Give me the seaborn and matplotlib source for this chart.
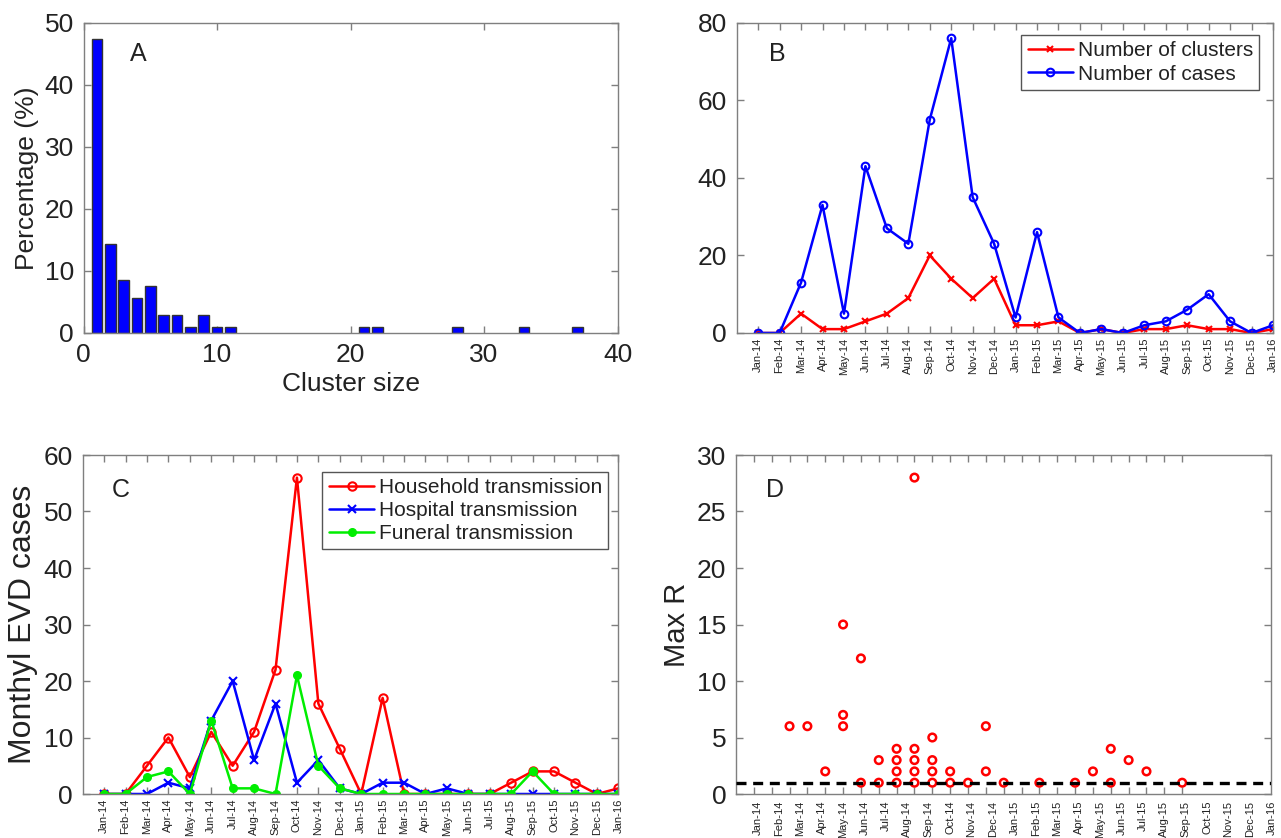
import matplotlib
matplotlib.use('Agg')
import matplotlib.pyplot as plt
import numpy as np
import seaborn as sns

sns.set_theme(style='white')
plt.rcParams['font.family'] = ['Liberation Sans', 'DejaVu Sans']
plt.rcParams['text.color'] = '#222222'
plt.rcParams['axes.labelcolor'] = '#222222'

# Data
months = ['Jan-14', 'Feb-14', 'Mar-14', 'Apr-14', 'May-14', 'Jun-14', 'Jul-14',
          'Aug-14', 'Sep-14', 'Oct-14', 'Nov-14', 'Dec-14', 'Jan-15', 'Feb-15',
          'Mar-15', 'Apr-15', 'May-15', 'Jun-15', 'Jul-15', 'Aug-15', 'Sep-15',
          'Oct-15', 'Nov-15', 'Dec-15', 'Jan-16']
month_idx = list(range(len(months)))

# A: cluster size distribution
cluster_size = [1, 2, 3, 4, 5, 6, 7, 8, 9, 10, 11, 21, 22, 28, 33, 37]
cluster_pct = [47.3, 14.3, 8.6, 5.7, 7.6, 2.9, 2.9, 1.0, 2.9, 1.0, 1.0,
               1.0, 1.0, 1.0, 1.0, 1.0]

# B: clusters and cases per month
n_clusters = [0, 0, 5, 1, 1, 3, 5, 9, 20, 14, 9, 14, 2, 2, 3, 0, 1, 0, 1, 1, 2, 1, 1, 0, 1]
n_cases = [0, 0, 13, 33, 5, 43, 27, 23, 55, 76, 35, 23, 4, 26, 4, 0, 1, 0, 2, 3, 6, 10, 3, 0, 2]

# C: monthly cases by transmission route
household = [0, 0, 5, 10, 3, 11, 5, 11, 22, 56, 16, 8, 0, 17, 0, 0, 0, 0, 0, 2, 4, 4, 2, 0, 1]
hospital = [0, 0, 0, 2, 1, 13, 20, 6, 16, 2, 6, 1, 0, 2, 2, 0, 1, 0, 0, 0, 0, 0, 0, 0, 0]
funeral = [0, 0, 3, 4, 0, 13, 1, 1, 0, 21, 5, 1, 0, 0, 0, 0, 0, 0, 0, 0, 4, 0, 0, 0, 0]

# D: max R per cluster (x = month tick index)
maxr_month = [2, 3, 4, 5, 5, 5, 6, 6, 7, 7, 8, 8, 8, 8, 9, 9, 9, 9, 9,
              10, 10, 10, 10, 11, 11, 12, 13, 13, 14, 16, 18, 19, 20, 20, 21, 22, 24]
maxr_value = [6, 6, 2, 15, 7, 6, 12, 1, 3, 1, 4, 3, 2, 1, 28, 4, 3, 2, 1,
              5, 3, 2, 1, 2, 1, 1, 6, 2, 1, 1, 1, 2, 4, 1, 3, 2, 1]

W, H = 1281, 838
fig = plt.figure(figsize=(W / 100, H / 100), dpi=100)


def rect(l, t, r, b):
    return [l / W, 1 - b / H, (r - l) / W, (b - t) / H]


axA = fig.add_axes(rect(83.6, 22.7, 617.5, 333))
axB = fig.add_axes(rect(736.7, 22.7, 1273, 333))
axC = fig.add_axes(rect(82.7, 455, 618.3, 794))
axD = fig.add_axes(rect(736, 455, 1271.4, 794))

spine_col = '#7f7f7f'
tick_fs = 19
label_fs = 19
legend_fs = 15
letter_fs = 18


def style_axes(ax):
    for s in ax.spines.values():
        s.set_color(spine_col)
        s.set_linewidth(1.0)
        s.set_visible(True)
    ax.tick_params(which='major', direction='in', top=True, right=True,
                   bottom=True, left=True, length=5, width=1,
                   color=spine_col, labelsize=tick_fs, pad=7,
                   labelcolor='#222222')


def month_axis(ax):
    ax.set_xticks(month_idx)
    ax.set_xticklabels(months, rotation=90, fontsize=8)
    ax.tick_params(axis='x', pad=3.5)
    ax.set_xlim(-1, 24)


def add_legend(ax, anchor):
    ax.legend(loc='upper right', bbox_to_anchor=anchor, borderaxespad=0,
              fontsize=legend_fs, frameon=True, fancybox=False,
              edgecolor='#555555', framealpha=1, handlelength=2.2,
              handletextpad=0.2, labelspacing=0.2, borderpad=0.3)


# Panel A
sns.barplot(x=cluster_size, y=cluster_pct, native_scale=True, width=0.8,
            color='blue', saturation=1, edgecolor='#333333', linewidth=1,
            errorbar=None, ax=axA)
style_axes(axA)
axA.set_xlim(0, 40)
axA.set_ylim(0, 50)
axA.set_xticks([0, 10, 20, 30, 40])
axA.set_xticklabels(['0', '10', '20', '30', '40'])
axA.set_yticks([0, 10, 20, 30, 40, 50])
axA.set_xlabel('Cluster size', fontsize=label_fs, labelpad=4)
axA.set_ylabel('Percentage (%)', fontsize=label_fs, labelpad=4)
axA.text(0.087, 0.90, 'A', transform=axA.transAxes, fontsize=letter_fs, va='center')

# Panel B
sns.lineplot(x=month_idx, y=n_clusters, color='red', marker='x', ms=5,
             mec='red', mew=1.5, lw=1.8, label='Number of clusters', ax=axB)
sns.lineplot(x=month_idx, y=n_cases, color='blue', marker='o', ms=5.5,
             mec='blue', mfc='none', mew=1.5, lw=1.8, label='Number of cases', ax=axB)
style_axes(axB)
month_axis(axB)
axB.set_ylim(0, 80)
axB.set_yticks([0, 20, 40, 60, 80])
axB.set_xlabel('')
axB.set_ylabel('')
axB.text(0.060, 0.90, 'B', transform=axB.transAxes, fontsize=letter_fs, va='center')
add_legend(axB, (0.974, 0.960))

# Panel C
sns.lineplot(x=month_idx, y=household, color='red', marker='o', ms=6,
             mec='red', mfc='none', mew=1.5, lw=1.8, label='Household transmission', ax=axC)
sns.lineplot(x=month_idx, y=hospital, color='blue', marker='x', ms=6,
             mec='blue', mew=1.5, lw=1.8, label='Hospital transmission', ax=axC)
sns.lineplot(x=month_idx, y=funeral, color='#00ee00', marker='o', ms=5.5,
             mec='#00ee00', mfc='#00ee00', mew=1, lw=1.8, label='Funeral transmission', ax=axC)
style_axes(axC)
month_axis(axC)
axC.set_ylim(0, 60)
axC.set_yticks([0, 10, 20, 30, 40, 50, 60])
axC.set_xlabel('')
axC.set_ylabel('Monthyl EVD cases', fontsize=23, labelpad=4)
axC.text(0.055, 0.897, 'C', transform=axC.transAxes, fontsize=letter_fs, va='center')
add_legend(axC, (0.981, 0.951))

# Panel D
sns.scatterplot(x=maxr_month, y=maxr_value, marker='o', s=30, ax=axD, zorder=2)
pts = axD.collections[-1]
pts.set_facecolor('none')
pts.set_edgecolor('red')
pts.set_linewidth(1.8)
axD.axhline(1, color='black', lw=2.4, ls=(0, (3, 2)), zorder=3)
style_axes(axD)
axD.set_xlim(-1, 29)
axD.set_ylim(0, 30)
axD.set_yticks([0, 5, 10, 15, 20, 25, 30])
# tick marks sit on the data positions, month labels are spread evenly
axD.xaxis.remove_overlapping_locs = False
axD.set_xticks(month_idx)
axD.set_xticklabels([])
label_pos = np.arange(1, len(months) + 1) * 1.2 - 1
axD.set_xticks(label_pos, minor=True)
axD.set_xticklabels(months, minor=True, rotation=90, fontsize=8)
axD.tick_params(axis='x', which='minor', length=0, pad=5, labelcolor='#222222')
axD.set_xlabel('')
axD.set_ylabel('Max R', fontsize=21, labelpad=4)
axD.text(0.056, 0.897, 'D', transform=axD.transAxes, fontsize=letter_fs, va='center')

fig.savefig('out.png', dpi=100)
